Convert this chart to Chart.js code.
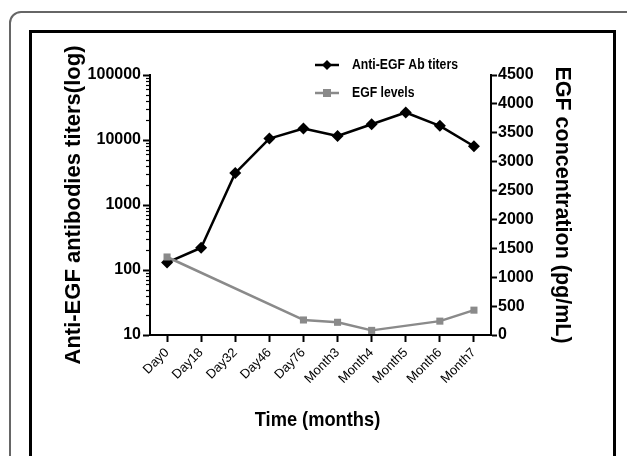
<!DOCTYPE html>
<html>
<head>
<meta charset="utf-8">
<script src="https://cdn.jsdelivr.net/npm/chart.js@4"></script>
<style>
  html, body { margin: 0; padding: 0; background: #fff; }
  #wrap { position: relative; width: 627px; height: 456px; overflow: hidden; }
  #outer { position: absolute; left: 9px; top: 11px; width: 640px; height: 480px;
           border: 2px solid #666; border-radius: 12px; box-sizing: border-box; }
  #inner { position: absolute; left: 29px; top: 30px; width: 587px; height: 460px;
           border: 3px solid #000; box-sizing: border-box; }
  canvas { position: absolute; left: 0; top: 0; }
</style>
</head>
<body>
<div id="wrap">
  <div id="outer"></div>
  <div id="inner"></div>
  <canvas id="c" width="627" height="456"></canvas>
</div>
<script>
const categories = ["Day0", "Day18", "Day32", "Day46", "Day76", "Month3", "Month4", "Month5", "Month6", "Month7"];
const antibodyTiters = [130, 220, 3100, 10500, 15000, 11500, 17500, 26500, 16500, 8000];
const egfLevels = [1350, null, null, null, 260, 220, 80, null, 240, 430];
const leftTicks = [10, 100, 1000, 10000, 100000];
const rightTicks = [0, 500, 1000, 1500, 2000, 2500, 3000, 3500, 4000, 4500];
const seriesNames = ["Anti-EGF Ab titers", "EGF levels"];
const xTitle = "Time (months)";

const SANS = '"Liberation Sans", Arial, sans-serif';
const BLACK = '#000000';
const GRAY = '#8a8a8a';

function condensedText(ctx, text, x, y, font, sx, align) {
  ctx.save();
  ctx.font = font;
  ctx.textBaseline = 'middle';
  ctx.textAlign = align;
  ctx.translate(x, y);
  ctx.scale(sx, 1);
  ctx.fillText(text, 0, 0);
  ctx.restore();
}

const minorTicks = {
  id: 'minorTicks',
  afterDraw(chart) {
    const s = chart.scales.y;
    const ctx = chart.ctx;
    ctx.save();
    ctx.strokeStyle = BLACK;
    ctx.lineWidth = 1.2;
    for (let d = 10; d < 100000; d *= 10) {
      for (let k = 2; k <= 9; k++) {
        const y = Math.round(s.getPixelForValue(k * d)) + 0.5;
        ctx.beginPath();
        ctx.moveTo(s.right - 4, y);
        ctx.lineTo(s.right, y);
        ctx.stroke();
      }
    }
    ctx.restore();
  }
};

const textPlugin = {
  id: 'customText',
  afterDraw(chart) {
    const ctx = chart.ctx;
    const rows = [
      { y: 65, color: BLACK, style: 'diamond', text: seriesNames[0] },
      { y: 93, color: GRAY, style: 'square', text: seriesNames[1] }
    ];
    ctx.save();
    rows.forEach(r => {
      ctx.strokeStyle = r.color;
      ctx.fillStyle = r.color;
      ctx.lineWidth = 2.5;
      ctx.beginPath();
      ctx.moveTo(315, r.y);
      ctx.lineTo(339, r.y);
      ctx.stroke();
      ctx.beginPath();
      if (r.style === 'diamond') {
        ctx.moveTo(327, r.y - 5); ctx.lineTo(332, r.y); ctx.lineTo(327, r.y + 5); ctx.lineTo(322, r.y);
        ctx.closePath();
      } else {
        ctx.rect(323, r.y - 4, 8, 8);
      }
      ctx.fill();
      ctx.fillStyle = BLACK;
      condensedText(ctx, r.text, 352, r.y, 'bold 15px ' + SANS, 0.815, 'left');
    });
    const xs = chart.scales.x;
    ctx.fillStyle = BLACK;
    condensedText(ctx, xTitle, (xs.left + xs.right) / 2 - 3, 420, 'bold 21px ' + SANS, 0.87, 'center');
    ctx.restore();
  }
};

new Chart(document.getElementById('c'), {
  type: 'line',
  data: {
    labels: categories,
    datasets: [
      {
        label: seriesNames[1],
        data: egfLevels,
        yAxisID: 'y1',
        borderColor: GRAY,
        backgroundColor: GRAY,
        borderWidth: 2.5,
        pointStyle: 'rect',
        pointRadius: 5,
        pointBorderWidth: 0,
        spanGaps: true,
        tension: 0
      },
      {
        label: seriesNames[0],
        data: antibodyTiters,
        yAxisID: 'y',
        borderColor: BLACK,
        backgroundColor: BLACK,
        borderWidth: 2.5,
        pointStyle: 'rectRot',
        pointRadius: 6,
        pointBorderWidth: 0,
        tension: 0
      }
    ]
  },
  options: {
    responsive: false,
    animation: false,
    devicePixelRatio: 1,
    layout: { padding: { left: 57, right: 48, top: 75, bottom: 24 } },
    plugins: { legend: { display: false }, tooltip: { enabled: false } },
    elements: { line: { borderCapStyle: 'round', borderJoinStyle: 'round' } },
    scales: {
      x: {
        type: 'category',
        offset: true,
        grid: { display: true, drawOnChartArea: false, drawTicks: true, tickLength: 7, tickWidth: 2, tickColor: BLACK },
        border: { display: true, color: BLACK, width: 2 },
        ticks: { minRotation: 45, maxRotation: 45, autoSkip: false, color: BLACK, padding: 3,
                 font: { family: SANS, size: 13 } },
        title: { display: false },
        afterFit(s) { s.height = 97; }
      },
      y: {
        type: 'logarithmic',
        position: 'left',
        min: 10, max: 100000,
        afterBuildTicks(s) { s.ticks = leftTicks.map(v => ({ value: v })); },
        grid: { display: true, drawOnChartArea: false, drawTicks: true, tickLength: 7, tickWidth: 2, tickColor: BLACK },
        border: { display: true, color: BLACK, width: 2 },
        ticks: { color: BLACK, padding: 2, font: { family: SANS, size: 16, weight: 'bold' },
                 callback: (v) => String(v) },
        title: { display: true, text: 'Anti-EGF antibodies titers(log)', color: BLACK,
                 font: { family: SANS, size: 22, weight: 'bold' }, padding: { top: 4, bottom: 4 } },
        afterFit(s) { s.width = 93; }
      },
      y1: {
        type: 'linear',
        position: 'right',
        min: 0, max: 4500,
        afterBuildTicks(s) { s.ticks = rightTicks.map(v => ({ value: v })); },
        grid: { display: true, drawOnChartArea: false, drawTicks: true, tickLength: 6, tickWidth: 2, tickColor: BLACK },
        border: { display: true, color: BLACK, width: 2 },
        ticks: { color: BLACK, padding: 1, font: { family: SANS, size: 16, weight: 'bold' },
                 callback: (v) => String(v) },
        title: { display: true, text: 'EGF concentration (pg/mL)', color: BLACK,
                 font: { family: SANS, size: 21.5, weight: 'bold' }, padding: { top: 4, bottom: 4 } },
        afterFit(s) { s.width = 88; }
      }
    }
  },
  plugins: [minorTicks, textPlugin]
});
</script>
</body>
</html>
